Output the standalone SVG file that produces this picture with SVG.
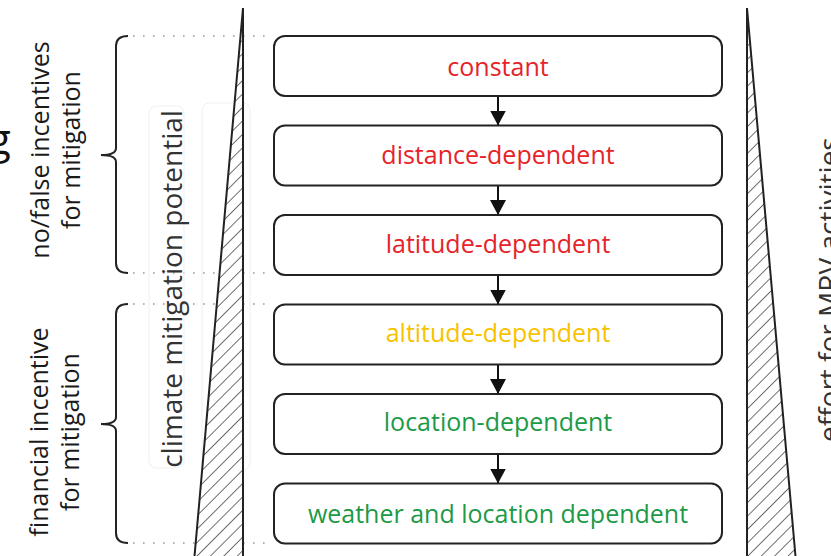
<svg xmlns="http://www.w3.org/2000/svg" width="831" height="556" viewBox="0 0 831 556">
  <style>
    text { font-family: "Open Sans", "Liberation Sans", sans-serif; }
    .box { fill: #ffffff; stroke: #222222; stroke-width: 2; }
    .lbl { font-size: 25px; text-anchor: middle; }
    .red { fill: #e52329; }
    .gold { fill: #f7c200; }
    .green { fill: #1c9a46; }
    .side { font-size: 25px; text-anchor: middle; fill: #1a1a1a; }
    .axis { font-size: 28px; fill: #333333; }
    .brace { fill: none; stroke: #222222; stroke-width: 2; }
    .dots { stroke: #9a9a9a; stroke-width: 1.6; stroke-dasharray: 1.6 8.4; }
    .wedge { fill: url(#hatch); stroke: #222222; stroke-width: 2; stroke-linejoin: miter; }
    .faint { fill: none; stroke: #f2f2f2; stroke-width: 1.2; }
    .conn { stroke: #111111; stroke-width: 2; marker-end: url(#head); }
  </style>
  <defs>
    <pattern id="hatch" patternUnits="userSpaceOnUse" width="9.5" height="9.5" patternTransform="rotate(45)">
      <rect width="9.5" height="9.5" fill="#ffffff"/>
      <line x1="0" y1="0" x2="0" y2="9.5" stroke="#333333" stroke-width="1.4"/>
    </pattern>
    <marker id="head" markerUnits="userSpaceOnUse" markerWidth="16" markerHeight="16" refX="15" refY="8" orient="auto">
      <path d="M0,0 L15,8 L0,16 Z" fill="#111111"/>
    </marker>
  </defs>

  <rect width="831" height="556" fill="#ffffff"/>

  <!-- partial letter at the left edge -->
  <text x="-12" y="154" font-size="42" fill="#111111">g</text>

  <!-- dotted guide lines -->
  <g id="guides">
    <line class="dots" x1="133" y1="36" x2="272" y2="36"/>
    <line class="dots" x1="133" y1="273" x2="272" y2="273"/>
    <line class="dots" x1="133" y1="304" x2="272" y2="304"/>
    <line class="dots" x1="133" y1="543" x2="272" y2="543"/>
  </g>

  <!-- faint frames around the axis label -->
  <g id="frames">
    <rect class="faint" x="149" y="106" width="35" height="362" rx="7"/>
    <rect class="faint" x="202" y="103" width="48" height="367" rx="7"/>
  </g>

  <!-- climate mitigation potential wedge -->
  <g id="wedge-left">
    <path class="wedge" d="M243,8 L243,562 L194,562 Z"/>
  </g>
  <g id="label-potential">
    <text class="axis" text-anchor="middle" transform="translate(182,289) rotate(-90)">climate mitigation potential</text>
  </g>

  <!-- MRV effort wedge -->
  <g id="wedge-right">
    <path class="wedge" d="M747,8 L747,562 L796,562 Z"/>
  </g>
  <g id="label-effort">
    <text class="axis" text-anchor="start" transform="translate(839,442) rotate(-90)">effort for MRV activities</text>
  </g>

  <!-- braces with their captions -->
  <g id="brace-nofalse">
    <path class="brace" d="M128,36 Q116,36 116,46 L116,148 Q116,155 101,155 Q116,155 116,162 L116,263 Q116,273 128,273"/>
    <text class="side" transform="translate(49,150) rotate(-90)">no/false incentives</text>
    <text class="side" transform="translate(80,150) rotate(-90)">for mitigation</text>
  </g>
  <g id="brace-financial">
    <path class="brace" d="M128,304 Q116,304 116,314 L116,417 Q116,424 101,424 Q116,424 116,431 L116,533 Q116,543 128,543"/>
    <text class="side" transform="translate(48,432) rotate(-90)">financial incentive</text>
    <text class="side" transform="translate(79,432) rotate(-90)">for mitigation</text>
  </g>

  <!-- connectors -->
  <g id="connectors">
    <line class="conn" x1="498" y1="96" x2="498" y2="125.5"/>
    <line class="conn" x1="498" y1="185.5" x2="498" y2="215"/>
    <line class="conn" x1="498" y1="275" x2="498" y2="304.5"/>
    <line class="conn" x1="498" y1="364.5" x2="498" y2="394"/>
    <line class="conn" x1="498" y1="454" x2="498" y2="483.5"/>
  </g>

  <!-- levels -->
  <g id="node-constant">
    <rect class="box" x="274" y="36" width="448" height="60" rx="11"/>
    <text class="lbl red" x="498" y="76">constant</text>
  </g>
  <g id="node-distance">
    <rect class="box" x="274" y="125.5" width="448" height="60" rx="11"/>
    <text class="lbl red" x="498" y="164">distance-dependent</text>
  </g>
  <g id="node-latitude">
    <rect class="box" x="274" y="215" width="448" height="60" rx="11"/>
    <text class="lbl red" x="498" y="253">latitude-dependent</text>
  </g>
  <g id="node-altitude">
    <rect class="box" x="274" y="304.5" width="448" height="60" rx="11"/>
    <text class="lbl gold" x="498" y="342">altitude-dependent</text>
  </g>
  <g id="node-location">
    <rect class="box" x="274" y="394" width="448" height="60" rx="11"/>
    <text class="lbl green" x="498" y="431">location-dependent</text>
  </g>
  <g id="node-weather">
    <rect class="box" x="274" y="483.5" width="448" height="60" rx="11"/>
    <text class="lbl green" x="498" y="523">weather and location dependent</text>
  </g>
</svg>
